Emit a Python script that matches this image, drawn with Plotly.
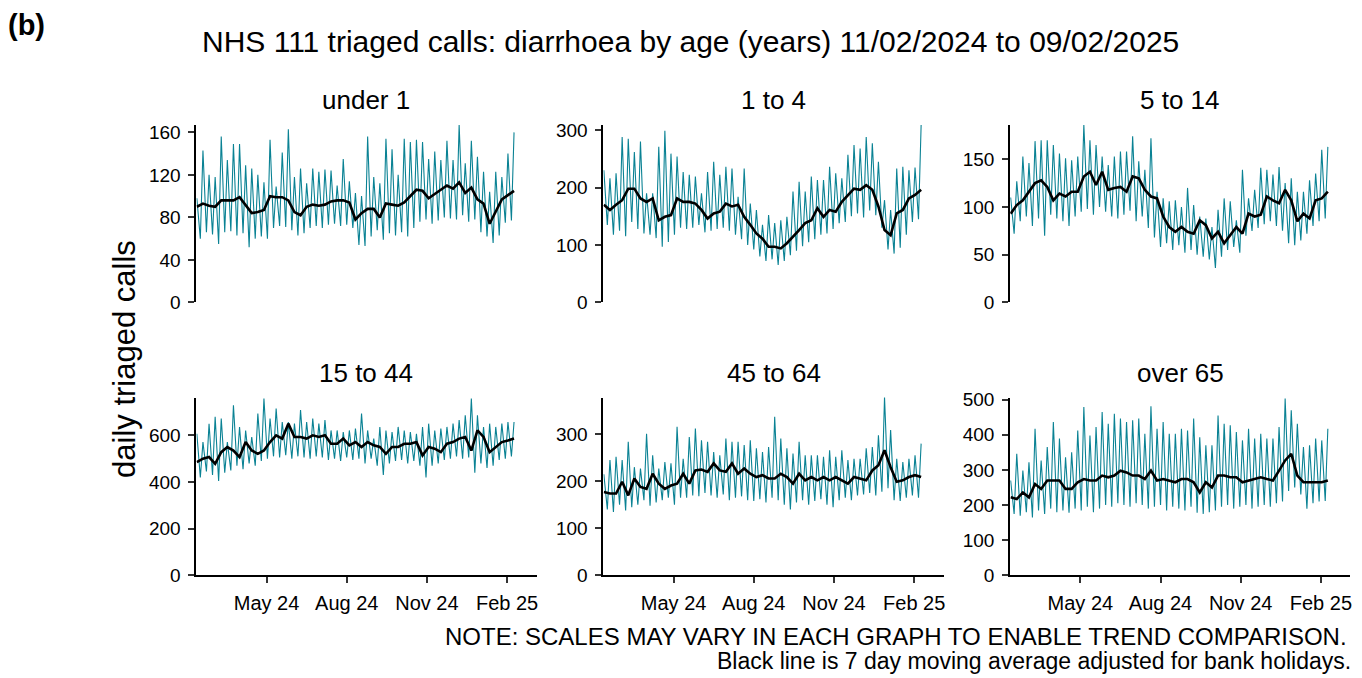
import plotly.graph_objects as go
from datetime import date, timedelta

# weekly readings: peaks fall on Sundays, troughs mid-week, black line = 7 day moving average
start = date(2024, 2, 11)
panel_names = ["under 1", "1 to 4", "5 to 14", "15 to 44", "45 to 64", "over 65"]

under1_peaks = [98, 143, 120, 118, 156, 134, 149, 149, 129, 126, 120, 113, 153, 109, 141, 163, 118, 126,
                112, 126, 123, 125, 124, 110, 135, 114, 103, 100, 156, 118, 112, 154, 144, 120, 154, 151,
                153, 151, 135, 142, 134, 152, 134, 167, 131, 152, 137, 123, 104, 123, 118, 140, 160]
under1_troughs = [60, 66, 64, 55, 66, 67, 63, 65, 52, 60, 62, 60, 70, 72, 71, 68, 63, 65, 70, 72, 70, 73,
                  74, 72, 73, 70, 54, 53, 62, 68, 59, 65, 63, 66, 62, 70, 76, 78, 74, 77, 80, 79, 78, 82,
                  76, 78, 66, 62, 56, 63, 75, 77]
under1_avg = [90, 93, 91, 90, 96, 96, 96, 99, 92, 84, 85, 87, 100, 99, 99, 96, 85, 82, 90, 92, 91, 92,
              95, 96, 96, 94, 78, 84, 88, 88, 80, 93, 92, 91, 94, 100, 106, 105, 98, 102, 106, 110, 107,
              113, 103, 108, 97, 93, 74, 85, 97, 101, 105]

age1to4_peaks = [230, 216, 225, 288, 285, 262, 280, 190, 190, 271, 299, 259, 254, 227, 222, 219, 190, 227,
                 245, 222, 236, 233, 184, 233, 172, 161, 135, 152, 138, 143, 149, 193, 210, 193, 219, 213,
                 213, 236, 225, 216, 257, 274, 268, 288, 277, 245, 178, 161, 233, 236, 230, 235, 309]
age1to4_troughs = [135, 118, 125, 115, 140, 128, 120, 118, 112, 97, 105, 118, 130, 128, 130, 135, 122, 125,
                   128, 130, 125, 118, 110, 100, 92, 80, 72, 75, 65, 72, 82, 90, 98, 105, 110, 118, 120,
                   128, 138, 140, 150, 155, 148, 160, 152, 130, 92, 85, 95, 118, 140, 145]
age1to4_avg = [170, 161, 170, 178, 198, 198, 181, 175, 181, 143, 149, 152, 181, 175, 175, 172, 161, 146,
               155, 158, 172, 167, 170, 149, 135, 120, 111, 97, 97, 94, 103, 114, 126, 138, 143, 164, 149,
               161, 158, 175, 187, 198, 196, 204, 196, 167, 126, 117, 155, 161, 181, 187, 196]

age5to14_peaks = [110, 127, 153, 146, 169, 170, 170, 165, 156, 151, 149, 153, 186, 170, 165, 153, 144, 153,
                  158, 158, 174, 148, 139, 172, 116, 109, 106, 107, 100, 120, 102, 90, 88, 79, 97, 109,
                  106, 86, 139, 109, 118, 141, 139, 134, 142, 125, 130, 116, 116, 128, 135, 160, 163]
age5to14_troughs = [72, 85, 90, 80, 88, 70, 92, 88, 85, 80, 90, 95, 98, 92, 100, 95, 90, 88, 92, 96, 85, 90,
                    78, 68, 58, 62, 55, 60, 52, 55, 50, 48, 45, 36, 48, 55, 58, 52, 70, 75, 78, 82, 85,
                    80, 75, 62, 60, 65, 72, 80, 85, 88]
age5to14_avg = [93, 102, 107, 116, 125, 128, 121, 107, 114, 111, 116, 116, 132, 137, 123, 137, 118, 120,
                121, 116, 132, 130, 118, 111, 109, 90, 79, 74, 79, 74, 72, 86, 81, 67, 74, 62, 71, 79, 72,
                93, 90, 92, 111, 107, 104, 118, 107, 85, 93, 88, 107, 109, 116]

age15to44_peaks = [607, 571, 650, 679, 672, 571, 729, 636, 621, 593, 693, 758, 672, 715, 657, 657, 650, 708,
                   657, 672, 650, 665, 621, 621, 614, 621, 629, 693, 621, 586, 636, 621, 614, 636, 621,
                   614, 607, 636, 650, 621, 629, 636, 650, 665, 686, 758, 686, 636, 650, 636, 650, 657, 657]
age15to44_troughs = [420, 445, 430, 405, 440, 450, 470, 455, 480, 470, 490, 500, 510, 505, 515, 500, 510,
                     505, 500, 510, 505, 495, 500, 490, 505, 495, 500, 480, 500, 470, 430, 480, 490, 495,
                     480, 490, 470, 420, 470, 480, 495, 500, 510, 500, 505, 440, 480, 460, 470, 495, 500, 510]
age15to44_avg = [485, 500, 507, 478, 528, 550, 535, 507, 571, 535, 521, 535, 571, 600, 586, 650, 593, 593,
                 586, 600, 593, 600, 564, 564, 586, 557, 571, 550, 571, 557, 550, 521, 550, 550, 564, 564,
                 571, 514, 550, 543, 528, 564, 571, 586, 593, 535, 621, 593, 528, 550, 571, 578, 586]

age45to64_peaks = [215, 245, 252, 245, 284, 230, 227, 301, 255, 227, 241, 238, 316, 248, 294, 312, 287, 284,
                   262, 255, 291, 284, 284, 277, 287, 270, 262, 273, 337, 291, 270, 259, 284, 255, 255,
                   255, 252, 266, 252, 266, 245, 248, 248, 270, 273, 298, 379, 309, 248, 241, 248, 255, 280]
age45to64_troughs = [140, 135, 150, 138, 145, 150, 160, 148, 155, 160, 165, 150, 165, 165, 170, 168, 175,
                     170, 165, 172, 160, 165, 168, 160, 158, 162, 155, 165, 160, 150, 140, 155, 160, 150,
                     158, 162, 150, 145, 160, 165, 160, 170, 172, 175, 170, 178, 185, 160, 158, 165, 170, 165]
age45to64_avg = [177, 174, 174, 199, 170, 206, 188, 184, 216, 195, 184, 191, 195, 216, 195, 223, 225, 220,
                 238, 223, 220, 238, 216, 227, 216, 209, 213, 206, 206, 216, 209, 195, 216, 202, 209, 202,
                 209, 202, 209, 202, 195, 209, 206, 202, 223, 234, 266, 230, 199, 202, 209, 213, 209]

over65_peaks = [270, 346, 298, 322, 417, 327, 365, 436, 389, 336, 350, 412, 479, 398, 422, 465, 431, 460,
                446, 436, 441, 446, 403, 481, 417, 436, 403, 403, 417, 412, 446, 393, 370, 370, 455, 431,
                427, 408, 384, 417, 389, 403, 389, 389, 422, 503, 470, 431, 365, 370, 389, 384, 417]
over65_troughs = [175, 170, 180, 165, 185, 175, 190, 180, 185, 178, 190, 185, 195, 180, 190, 200, 195, 205,
                  200, 195, 205, 200, 190, 195, 200, 185, 195, 190, 185, 195, 178, 175, 180, 185, 195, 200,
                  190, 195, 200, 190, 195, 200, 195, 205, 210, 240, 250, 230, 190, 205, 210, 212]
over65_avg = [222, 217, 236, 222, 260, 246, 270, 270, 270, 246, 246, 265, 274, 270, 270, 284, 279, 284, 298,
              293, 284, 284, 274, 298, 270, 274, 270, 265, 274, 274, 265, 236, 265, 250, 284, 284, 279, 279,
              265, 270, 274, 279, 274, 270, 298, 327, 346, 284, 265, 265, 265, 265, 270]

peaks = [under1_peaks, age1to4_peaks, age5to14_peaks, age15to44_peaks, age45to64_peaks, over65_peaks]
troughs = [under1_troughs, age1to4_troughs, age5to14_troughs, age15to44_troughs, age45to64_troughs,
           over65_troughs]
averages = [under1_avg, age1to4_avg, age5to14_avg, age15to44_avg, age45to64_avg, over65_avg]

y_tops = [167, 309, 186, 762, 378, 506]
y_ticks = [[0, 40, 80, 120, 160], [0, 100, 200, 300], [0, 50, 100, 150],
           [0, 200, 400, 600], [0, 100, 200, 300], [0, 100, 200, 300, 400, 500]]
x_tick_dates = ["2024-05-01", "2024-08-01", "2024-11-01", "2025-02-01"]
x_tick_labels = ["May 24", "Aug 24", "Nov 24", "Feb 25"]

TEAL = "#0a8294"
FONT = "Liberation Sans, Arial, sans-serif"
W, H = 1362, 678
# the page draws the paper a little short vertically; these map screen pixels onto it
TOP_PAD, PAPER_H = 8.2, 658.3


def py(px):
    return 1 - (px - TOP_PAD) / PAPER_H


x_doms = [(196.7 / W, 537.3 / W), (604.3 / W, 945.0 / W), (1011.7 / W, 1352.3 / W)]
y_doms = [(py(302.3), py(125)), (py(575), py(397.3))]

fig = go.Figure()
layout = {}
for i, name in enumerate(panel_names):
    row, col = divmod(i, 3)
    xa = "x" if i == 0 else f"x{i + 1}"
    ya = "y" if i == 0 else f"y{i + 1}"

    days, vals = [], []
    for k in range(len(troughs[i])):
        days += [start + timedelta(days=7 * k), start + timedelta(days=7 * k + 4)]
        vals += [peaks[i][k], troughs[i][k]]
    days.append(start + timedelta(days=7 * len(troughs[i])))
    vals.append(peaks[i][-1])
    avg_days = [start + timedelta(days=7 * k) for k in range(len(averages[i]))]

    fig.add_trace(go.Scatter(x=days, y=vals, mode="lines", line=dict(color=TEAL, width=1.1),
                             xaxis=xa, yaxis=ya, showlegend=False))
    fig.add_trace(go.Scatter(x=avg_days, y=averages[i], mode="lines", line=dict(color="black", width=2.6),
                             xaxis=xa, yaxis=ya, showlegend=False))

    bottom = row == 1
    layout["xaxis" if i == 0 else f"xaxis{i + 1}"] = dict(
        domain=x_doms[col], anchor=ya, type="date",
        range=["2024-02-10 12:00", "2025-03-06 19:00"],
        showgrid=False, zeroline=False, showline=bottom, linecolor="black", linewidth=2,
        ticks="outside" if bottom else "", ticklen=6, tickwidth=2, tickcolor="#333333",
        tickvals=x_tick_dates, ticktext=x_tick_labels, showticklabels=bottom,
        ticklabelstandoff=3, tickfont=dict(family=FONT, size=20, color="black"))
    layout["yaxis" if i == 0 else f"yaxis{i + 1}"] = dict(
        domain=y_doms[row], anchor=xa, range=[0, y_tops[i]],
        showgrid=False, zeroline=False, showline=True, linecolor="black", linewidth=2,
        ticks="outside", ticklen=6, tickwidth=2, tickcolor="#333333",
        tickvals=y_ticks[i], ticklabelstandoff=4,
        tickfont=dict(family=FONT, size=19, color="black"))


def note(text, x, y, size, anchor="center", angle=0):
    return dict(text=text, x=x / W, y=py(y), xref="paper", yref="paper", xanchor=anchor,
                yanchor="middle", textangle=angle, showarrow=False,
                font=dict(family=FONT, size=size, color="black"))


annotations = []
for i, name in enumerate(panel_names):
    row, col = divmod(i, 3)
    annotations.append(note(name, W * sum(x_doms[col]) / 2, 100 if row == 0 else 373, 26))
annotations += [
    note("<b>(b)</b>", 6, 25, 29, anchor="left"),
    note("NHS 111 triaged calls: diarrhoea by age (years) 11/02/2024 to 09/02/2025", 692, 42, 30),
    note("daily triaged calls", 124, 359, 31, angle=-90),
    note("NOTE: SCALES MAY VARY IN EACH GRAPH TO ENABLE TREND COMPARISON.", 1351, 636, 24, anchor="right"),
    note("Black line is 7 day moving average adjusted for bank holidays.", 1355, 661, 23, anchor="right"),
]

fig.update_layout(**layout)
fig.update_layout(width=W, height=H, margin=dict(l=0, r=0, t=0, b=0),
                  paper_bgcolor="white", plot_bgcolor="white",
                  font=dict(family=FONT, color="black"), annotations=annotations)

fig.write_html("out.html", config={"displayModeBar": False},
               post_script="document.body.style.margin = '0'; document.body.style.overflow = 'hidden';")
